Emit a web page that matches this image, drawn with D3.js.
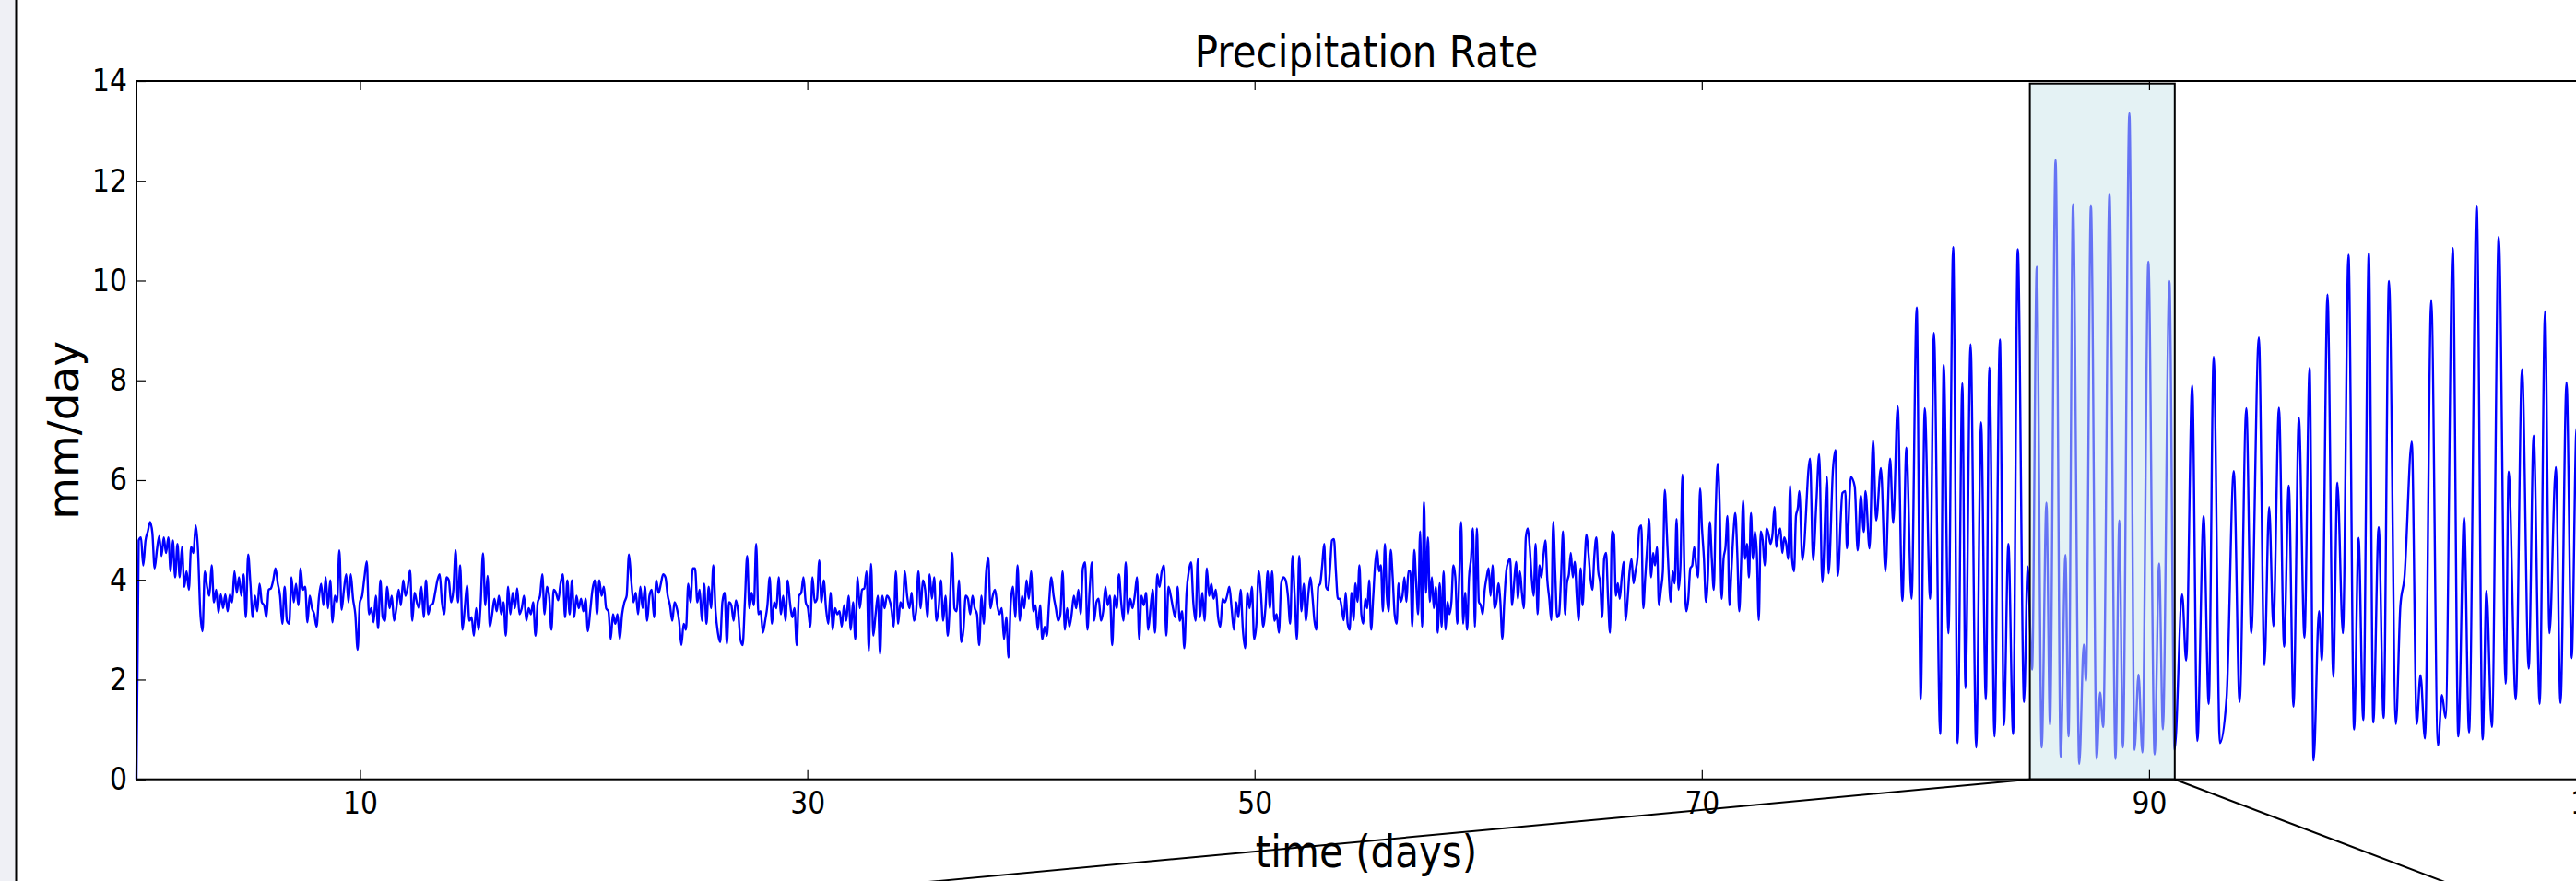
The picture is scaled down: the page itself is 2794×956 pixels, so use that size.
<!DOCTYPE html>
<html>
<head>
<meta charset="utf-8">
<script src="https://cdn.jsdelivr.net/npm/d3@7"></script>
<style>
  html, body { margin: 0; padding: 0; background: #fff; overflow: hidden; }
  svg { display: block; }
  text { font-family: "DejaVu Sans", sans-serif; fill: #000; }
</style>
</head>
<body>
<div id="container"></div>
<script>
// values (mm/day against time in days)
const startDays = [0];
const startValues = [0];

// days 0.1 - 26.0, evenly spaced readings
const segADays = [0.1, 26.0];
const segAValues = [4.79, 4.85, 4.29, 4.79, 4.97, 5.16, 4.94, 4.23, 4.6, 4.88, 4.48, 4.85, 4.54, 4.85, 4.17, 4.79, 4.05, 4.72, 4.05, 4.66, 3.86, 4.17, 3.8, 4.66, 4.54, 5.09, 4.6, 3.37, 2.97,
  4.17, 3.86, 3.68, 4.29, 3.55, 3.8, 3.34, 3.71, 3.43, 3.71, 3.37, 3.71, 3.55, 4.17, 3.74, 4.05, 3.68, 4.11, 3.25, 4.51, 3.92, 3.25, 3.68, 3.37, 3.92, 3.55, 3.49, 3.25, 3.8, 3.83, 3.99, 4.23, 3.92, 3.68, 3.12, 3.86, 3.18, 3.12, 4.05, 3.55, 3.92, 3.49, 4.23, 3.8, 3.86, 3.15, 3.68, 3.43, 3.31, 3.06, 3.62, 3.92, 3.49, 4.05, 3.43, 3.99, 3.15, 3.68, 3.55, 4.59, 3.4, 3.8, 4.11, 3.55, 4.11, 3.62, 3.31, 2.6, 3.55, 3.68, 4.05, 4.37, 3.31, 3.43, 3.15, 3.68, 3.03, 3.99, 3.25, 3.18, 3.86, 3.43, 3.68, 3.18, 3.43, 3.8, 3.49, 3.99, 3.68, 3.86, 4.2, 3.18, 3.74, 3.55, 3.43, 3.86, 3.25, 3.99, 3.31, 3.49, 3.52, 3.74, 3.99, 4.11, 3.55, 3.31, 4.05, 3.99, 3.55, 3.8, 4.59, 3.55, 4.29, 3.0, 3.43, 3.89, 3.18, 3.25, 2.88, 3.43, 3.0, 3.55, 4.53, 3.49, 4.08, 3.06, 3.31, 3.62, 3.37, 3.68, 3.31, 3.55, 2.88, 3.86, 3.31, 3.74, 3.43, 3.83, 3.31, 3.43, 3.68, 3.18, 3.43, 3.31, 3.55, 2.88, 3.55, 3.68, 4.11, 3.31, 3.86, 3.68, 3.0, 3.8, 3.74, 3.59, 3.92, 4.11, 3.25, 3.99, 3.31, 3.99, 3.25, 3.68, 3.43, 3.62, 3.37, 3.62, 2.97, 3.37, 3.8, 3.99, 3.31, 3.99, 3.68, 3.86, 3.43, 3.37, 2.81, 3.31, 3.12, 3.31, 2.81, 3.31, 3.55, 3.68, 4.51, 3.99, 3.55, 3.74, 3.31, 3.86, 3.43, 3.86, 3.18, 3.68, 3.8, 3.25, 3.99, 3.74, 3.92, 4.11, 4.05, 3.68, 3.49, 3.18, 3.55, 3.43, 3.18, 2.69, 3.12, 3.0, 3.92, 3.55, 4.23, 4.23, 3.55, 3.8, 3.18, 3.92, 3.12, 3.86, 3.43, 4.29, 3.37, 2.94];

// days 26.1 - 52.4
const segBDays = [26.1, 52.4];
const segBValues = [2.75, 3.55, 3.74, 2.72, 3.55, 3.49, 3.18, 3.59, 3.37, 2.81, 2.69, 3.55, 4.48, 3.43, 3.74, 3.49, 4.72, 3.31, 3.37, 2.94, 3.18, 3.49, 4.05, 3.12, 3.55, 3.43, 4.05, 3.31, 3.68, 3.18, 3.99, 3.55, 3.25, 3.43, 2.69, 3.68, 3.74, 4.05, 3.55, 3.43, 3.06, 4.05, 3.55, 3.62, 4.39, 3.55, 3.99, 3.43, 3.12, 3.74, 3.0, 3.43, 3.31, 3.37, 3.06, 3.49, 3.18, 3.68, 3.0, 3.55, 2.81, 4.05, 3.43, 3.8, 3.83, 4.17, 2.57, 4.32, 2.88, 3.31, 3.68, 2.51, 3.68, 3.43, 3.68, 3.62, 3.43, 3.06, 4.17, 3.12, 3.55, 3.43, 4.17, 3.68, 3.43, 3.74, 3.18, 3.37, 4.17, 3.43, 3.99, 3.8, 3.25, 4.11, 3.62, 4.05, 3.18, 3.43, 3.99, 3.18, 3.68, 2.88, 3.55, 4.54, 3.43, 3.37, 3.99, 2.75, 3.0, 3.68, 3.62, 3.31, 3.68, 3.43, 3.31, 2.69, 3.68, 3.12, 4.11, 4.45, 3.43, 3.68, 3.8, 3.49, 3.31, 3.43, 2.81, 3.25, 2.44, 3.55, 3.86, 3.25, 4.29, 3.18, 3.68, 3.43, 3.99, 3.62, 4.17, 3.37, 3.49, 3.0, 3.49, 2.81, 3.06, 2.88, 3.55, 4.05, 3.68, 3.43, 3.18, 3.31, 4.17, 3.0, 3.43, 3.06, 3.31, 3.68, 3.43, 3.8, 3.31, 4.23, 4.35, 3.0, 3.8, 4.35, 3.18, 3.55, 3.62, 3.18, 3.37, 3.86, 3.49, 3.68, 2.69, 3.68, 3.43, 4.11, 3.55, 3.18, 4.35, 3.31, 3.62, 3.43, 3.68, 4.05, 2.81, 3.68, 3.49, 3.74, 3.0, 3.43, 3.8, 2.94, 4.11, 3.86, 4.17, 4.29, 2.88, 3.86, 3.68, 3.43, 3.25, 3.86, 3.18, 3.37, 2.63, 3.74, 4.17, 4.35, 3.55, 3.18, 4.42, 3.25, 3.74, 3.18, 4.23, 3.68, 3.92, 3.62, 3.8, 3.25, 3.06, 3.62, 3.55, 3.68, 3.86, 3.43, 3.0, 3.55, 3.25, 3.8, 3.0, 2.63, 3.74, 3.43, 3.86, 2.81, 3.12, 4.17, 3.74, 3.06, 3.43, 4.17, 3.43, 4.17, 3.18, 3.31, 2.94, 3.92, 4.05, 3.99, 3.68, 3.12, 4.48, 3.68, 2.81, 4.48, 3.37, 3.92, 3.18, 3.68];

// days 52.5 - 74.3
const segCDays = [52.5, 74.3];
const segCValues = [4.05, 3.68, 3.19, 3.0, 3.86, 3.93, 4.29, 4.72, 3.86, 3.8, 4.23, 4.79, 4.82, 4.17, 3.62, 3.62, 3.43, 3.19, 3.74, 3.12, 3.0, 3.74, 3.19, 3.93, 3.56, 4.29, 3.31, 3.12, 3.62, 3.43, 3.99, 3.0, 3.62, 4.29, 4.6, 4.17, 4.29, 3.37, 4.72, 3.68, 3.37, 4.6, 4.05, 3.31, 3.12, 3.93, 3.56, 3.68, 4.05, 3.56, 4.17, 4.17, 3.06, 4.6, 3.93, 3.31, 4.97, 3.06, 5.56, 3.74, 4.85, 3.56, 4.05, 3.43, 3.86, 2.94, 3.93, 3.06, 4.17, 3.0, 3.56, 3.31, 3.56, 4.29, 4.05, 3.12, 4.05, 5.16, 3.12, 3.74, 3.0, 4.05, 4.42, 5.03, 3.06, 5.03, 3.56, 3.49, 3.31, 3.8, 4.05, 4.23, 3.68, 4.29, 3.43, 3.56, 3.93, 3.56, 2.82, 3.56, 4.17, 4.36, 4.42, 3.49, 3.93, 4.36, 3.62, 4.17, 3.74, 3.43, 4.85, 5.03, 4.66, 4.05, 3.68, 4.72, 3.31, 4.29, 4.05, 4.48, 4.79, 3.99, 3.62, 3.19, 5.16, 4.17, 3.25, 3.31, 4.05, 4.97, 3.31, 3.93, 4.11, 4.54, 4.05, 4.36, 3.68, 3.19, 4.23, 3.49, 4.29, 4.91, 4.54, 4.05, 3.8, 4.48, 4.85, 4.17, 3.93, 3.25, 4.42, 4.54, 3.62, 2.94, 4.97, 4.91, 3.68, 3.93, 3.62, 4.05, 4.36, 3.19, 3.62, 4.17, 4.42, 3.93, 4.17, 4.42, 5.03, 5.09, 3.43, 4.05, 4.66, 5.22, 4.05, 4.54, 4.29, 4.66, 3.49, 3.8, 4.17, 5.8, 4.97, 4.11, 3.56, 4.17, 3.93, 5.22, 3.8, 4.29, 6.11, 4.17, 3.37, 3.62, 4.23, 4.29, 4.66, 4.29, 4.05, 5.83, 5.03, 4.42, 3.56, 4.05, 5.16, 4.42, 3.8, 5.4, 6.33, 5.53, 3.62, 4.42, 4.66, 5.28, 3.49, 4.17, 4.91, 5.34, 4.54, 3.37, 4.36, 5.59, 4.42, 4.72, 4.05, 5.34, 4.42, 4.97, 4.54, 3.19, 4.97, 4.79, 4.29, 5.03, 4.91, 4.72, 4.91, 5.46, 4.66, 4.91, 5.03, 4.54, 4.85, 4.72, 4.42, 5.89, 4.42, 4.17, 5.28, 5.46];

// the oscillating part, peaks and troughs
const burstDays = [74.36, 74.5, 74.84, 74.98, 75.12, 75.25, 75.39, 75.6, 75.67, 75.87, 75.98, 76.08, 76.29, 76.42, 76.49, 76.67, 76.84, 76.97, 77.11, 77.25, 77.32, 77.5, 77.66, 77.8, 78.01, 78.21, 78.42, 78.56, 78.76, 78.97, 79.15, 79.38, 79.61, 79.79, 79.97, 80.21, 80.38, 80.66, 80.82, 81.03, 81.24, 81.44, 81.65, 81.79, 82.02, 82.27, 82.49, 82.7, 82.86, 83.09, 83.33, 83.51, 83.71, 83.92, 84.13, 84.41, 84.57, 84.77, 84.98, 85.2, 85.41, 85.57, 85.82, 86.05, 86.26, 86.4, 86.6, 86.88, 87.08, 87.18, 87.4, 87.66, 87.81, 87.95, 88.23, 88.5, 88.67, 88.83, 89.12, 89.35, 89.53, 89.7, 89.97, 90.25, 90.45, 90.62, 90.91, 91.14, 91.48, 91.66,
  91.93, 92.16, 92.44, 92.67, 92.89, 93.17, 93.47, 93.79, 94.05, 94.35, 94.57, 94.91, 95.16, 95.37, 95.56, 95.81, 96.04, 96.25, 96.46, 96.7, 96.95, 97.18, 97.36, 97.6, 97.73, 97.98, 98.24, 98.42, 98.67, 98.92, 99.17, 99.37, 99.58, 99.83, 100.03, 100.27, 100.49, 100.73, 101.04, 101.24, 101.42, 101.75, 101.97, 102.14, 102.34, 102.62, 102.92, 103.1, 103.26, 103.58, 103.83, 104.09, 104.31, 104.65, 104.92, 105.09, 105.33, 105.64, 105.95, 106.08, 106.4, 106.68, 106.98, 107.2, 107.47, 107.71, 107.91, 108.19, 108.4, 108.67, 108.9, 109.12, 109.4, 109.7, 110];
const burstValues = [5.78, 4.4, 6.43, 4.4, 5.51, 6.52, 3.95, 6.06, 4.13, 6.24, 6.6, 4.08, 5.74, 5.78, 4.63, 6.06, 5.87, 4.59, 5.69, 4.96, 5.78, 4.63, 6.8, 5.19, 6.24, 4.17, 6.43, 5.14, 7.48, 3.58, 6.65, 3.62, 9.46, 1.6, 7.44, 3.62, 8.95, 0.91, 8.31, 2.93, 10.67, 0.73, 7.94, 1.83, 8.72, 0.64, 7.16, 1.6, 8.26, 0.86, 8.82, 1.09, 4.72, 0.91, 10.63, 1.55, 4.27, 2.2, 10.28, 0.64, 5.55, 1.09, 12.42, 0.45, 4.5, 0.86, 11.53, 0.31, 2.7, 1.97, 11.51, 0.41, 1.74, 1.05, 11.74, 0.41, 5.19, 0.64, 13.36, 0.59, 2.1, 0.54, 10.38, 0.5, 4.33, 1.0, 9.99, 0.59, 3.71, 2.38,
  7.9, 0.77, 5.28, 1.51, 8.47, 0.73, 1.65, 6.18, 1.55, 7.44, 2.93, 8.86, 2.29, 5.46, 3.07, 7.45, 2.66, 5.89, 1.46, 7.25, 2.84, 8.25, 0.38, 3.37, 2.38, 9.72, 2.06, 5.95, 2.93, 10.52, 1.0, 4.84, 1.19, 10.55, 1.14, 5.06, 1.23, 9.99, 1.11, 3.48, 4.04, 6.77, 1.11, 2.09, 0.82, 9.61, 0.68, 1.69, 1.23, 10.65, 0.86, 5.25, 0.94, 11.5, 0.8, 3.78, 1.05, 10.88, 1.92, 6.17, 1.6, 8.22, 2.22, 6.89, 1.51, 9.38, 2.93, 6.26, 1.53, 7.96, 2.43, 7.04, 2.0, 6.5, 3.0];

const xTicks = [10, 30, 50, 70, 90, 110];
const yTicks = [0, 2, 4, 6, 8, 10, 12, 14];
const zoomDays = [84.67, 91.15];
const zoomValues = [0, 13.95];

// ---- build the series ----
const spread = (range, values) => values.map((v, i) => ({
  day: range[0] + i * (range[1] - range[0]) / (values.length - 1),
  value: v
}));

const data = []
  .concat(startDays.map((d, i) => ({day: d, value: startValues[i]})))
  .concat(spread(segADays, segAValues))
  .concat(spread(segBDays, segBValues))
  .concat(spread(segCDays, segCValues))
  .concat(burstDays.map((d, i) => ({day: d, value: burstValues[i]})));

// ---- layout ----
const W = 2794, H = 956;
const plot = {left: 148, right: 2816, top: 88, bottom: 845.7};
const inset = {left: 148, right: 2862, top: 1037}; // zoomed axes sits below the picture
const squeeze = 0.876;

const svg = d3.select("#container")
  .append("svg")
  .attr("width", W)
  .attr("height", H);

// grey strip on the left edge
svg.append("rect").attr("x", 0).attr("y", 0).attr("width", 17).attr("height", H).attr("fill", "#eff0f5");
svg.append("line").attr("x1", 17.5).attr("x2", 17.5).attr("y1", 0).attr("y2", H)
  .attr("stroke", "#000").attr("stroke-width", 2);

const x = d3.scaleLinear().domain([0, 110]).range([plot.left, plot.right]);
const y = d3.scaleLinear().domain([0, 14]).range([plot.bottom, plot.top]);

// data line
const line = d3.line()
  .x(d => x(d.day))
  .y(d => y(d.value))
  .curve(d3.curveMonotoneX);

svg.append("path")
  .datum(data)
  .attr("fill", "none")
  .attr("stroke", "#0000ff")
  .attr("stroke-width", 2.4)
  .attr("stroke-linejoin", "round")
  .attr("d", line);

// zoom box
svg.append("rect")
  .attr("x", x(zoomDays[0]))
  .attr("y", y(zoomValues[1]))
  .attr("width", x(zoomDays[1]) - x(zoomDays[0]))
  .attr("height", y(zoomValues[0]) - y(zoomValues[1]))
  .attr("fill", "rgb(201,229,233)")
  .attr("fill-opacity", 0.5)
  .attr("stroke", "#000")
  .attr("stroke-width", 2);

// axes, ticks pointing inwards
const tickFont = 34;

const gx = svg.append("g")
  .attr("transform", `translate(0,${plot.bottom})`)
  .call(d3.axisBottom(x).tickValues(xTicks).tickSizeInner(-10).tickSizeOuter(0).tickPadding(13));
svg.append("g")
  .attr("transform", `translate(0,${plot.top})`)
  .call(d3.axisTop(x).tickValues(xTicks).tickSizeInner(-10).tickSizeOuter(0).tickFormat(""));
const gy = svg.append("g")
  .attr("transform", `translate(${plot.left},0)`)
  .call(d3.axisLeft(y).tickValues(yTicks).tickSizeInner(-10).tickSizeOuter(0).tickPadding(10 / squeeze));
svg.append("g")
  .attr("transform", `translate(${plot.right},0)`)
  .call(d3.axisRight(y).tickValues(yTicks).tickSizeInner(-10).tickSizeOuter(0).tickFormat(""));

svg.selectAll(".domain").remove();
svg.selectAll(".tick line").attr("stroke", "#000").attr("stroke-width", 1.2);
[gx, gy].forEach(g => g.selectAll("text")
  .style("font-family", "DejaVu Sans, sans-serif")
  .style("font-size", tickFont + "px")
  .attr("fill", "#000")
  .attr("transform", `scale(${squeeze},1)`));
gx.selectAll("text").attr("y", 13).attr("dy", "0.71em");

// spines
svg.append("rect")
  .attr("x", plot.left).attr("y", plot.top)
  .attr("width", plot.right - plot.left).attr("height", plot.bottom - plot.top)
  .attr("fill", "none").attr("stroke", "#000").attr("stroke-width", 2);

// titles
const mid = (plot.left + plot.right) / 2;
svg.append("text")
  .attr("transform", `translate(${mid},73) scale(${squeeze},1)`)
  .attr("text-anchor", "middle")
  .style("font-size", "48px")
  .text("Precipitation Rate");

svg.append("text")
  .attr("transform", `translate(${mid},941) scale(${squeeze},1)`)
  .attr("text-anchor", "middle")
  .style("font-size", "48px")
  .text("time (days)");

svg.append("text")
  .attr("transform", `translate(85,${(plot.top + plot.bottom) / 2}) rotate(-90)`)
  .attr("text-anchor", "middle")
  .style("font-size", "47px")
  .text("mm/day");

// connectors from the zoom box to the inset below
svg.append("line")
  .attr("x1", x(zoomDays[0])).attr("y1", y(zoomValues[0]))
  .attr("x2", inset.left).attr("y2", inset.top)
  .attr("stroke", "#000").attr("stroke-width", 2);
svg.append("line")
  .attr("x1", x(zoomDays[1])).attr("y1", y(zoomValues[0]))
  .attr("x2", inset.right).attr("y2", inset.top)
  .attr("stroke", "#000").attr("stroke-width", 2);
</script>
</body>
</html>
